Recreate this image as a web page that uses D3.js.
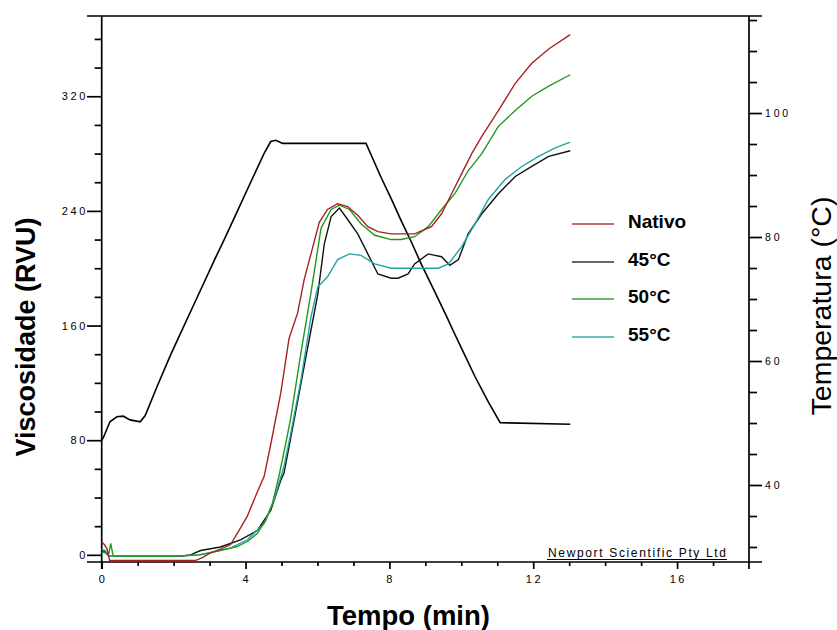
<!DOCTYPE html>
<html><head><meta charset="utf-8">
<script src="https://cdn.jsdelivr.net/npm/d3@7"></script>
<style>body{margin:0;background:#fff} svg{display:block}</style>
</head><body>
<svg id="c" width="837" height="630"></svg>
<script>
// ---- data ----
const tempTime = [0,0.05,0.23,0.42,0.60,0.79,1.07,1.21,1.54,1.91,2.14,2.65,3.16,3.40,3.68,4.14,4.51,4.70,4.84,5.03,7.35,7.77,8.05,8.33,8.61,8.89,9.25,9.59,9.78,10.10,10.38,10.75,11.08,13.03];
const tempVals = [47.2,47.7,50.2,51.0,51.1,50.5,50.2,51.2,55.9,60.9,63.8,70.2,76.6,79.5,83.0,88.8,93.4,95.4,95.6,95.1,95.1,89.6,86.2,82.6,79.2,75.6,71.3,67.2,64.8,60.9,57.5,53.4,50.05,49.8];

const nativoTime = [0,0.08,0.15,0.22,1.0,2.0,2.6,2.8,3.0,3.3,3.58,3.82,4.05,4.28,4.52,4.70,4.98,5.21,5.45,5.63,5.82,6.05,6.28,6.56,6.84,7.12,7.40,7.68,8.05,8.33,8.70,9.17,9.45,9.73,10.01,10.29,10.57,11.03,11.50,11.96,12.43,13.03];
const nativoVals = [9,7,4,-4,-4,-4,-4,-2,1,4,7,17,27,41,55,77,113,151,169,192,210,232,241,245,243,237,229,225.5,224,224,224,229,238,252,266,280,292,310,329,343,353,363];

const c45Time = [0,0.1,0.2,1.0,2.19,2.47,2.75,3.30,3.86,4.33,4.70,4.98,5.07,5.35,5.73,6.01,6.19,6.38,6.61,6.84,7.12,7.40,7.68,8.05,8.24,8.52,8.70,9.08,9.45,9.68,9.92,10.19,10.57,11.03,11.50,11.96,12.43,13.03];
const c45Vals = [3,2,-1,-1,-1,0,3,5.5,10.5,17,31,52,57,94,145,182,217,236,242,234,224,210,196,193,193,196,203,210,208,202,206,224,238,252,264,271,278,282];

const c50Time = [0,0.2,0.25,0.32,1.0,2.0,2.7,3.2,3.77,4.05,4.33,4.56,4.75,4.93,5.12,5.26,5.54,5.82,6.10,6.38,6.61,6.89,7.21,7.59,8.05,8.33,8.70,9.08,9.45,9.82,10.19,10.57,11.03,11.50,11.96,12.43,13.03];
const c50Vals = [2,1,8,-1,-1,-1,0,2.5,5.8,9.3,15,24,36,55,78,96,141,183,228,241,244,241,231,223,220,220,222,229,241,252,268,280,299,310,320,327,335];

const c55Time = [0,0.1,0.2,1.0,2.0,2.75,3.58,4.05,4.52,4.79,5.07,5.26,5.54,5.82,6.01,6.28,6.56,6.89,7.21,7.59,8.05,8.5,9.36,9.64,10.01,10.38,10.75,11.22,11.68,12.15,12.61,13.03];
const c55Vals = [4,3,-1,-1,-1,0,4.7,10.5,22,38,62,85,122,166,187,194,206,210,209,203,200,200,200,203,215,231,248,262,271,278,284,288];

const seriesNames = ["Nativo","45°C","50°C","55°C"];
const seriesColors = ["#a82222","#111111","#1f9a1f","#22a3a6"];
const legendColors = ["#b03a3a","#333333","#3aa03a","#3aa8a8"];
const timeTicks = [0,4,8,12,16];
const viscTicks = [0,80,160,240,320];
const tempTicks = [40,60,80,100];

// ---- scales ----
const svg = d3.select("#c");
const x = d3.scaleLinear().domain([0,18]).range([101.7,749]);
const yV = d3.scaleLinear().domain([-5,376]).range([562,16]);
const yT = d3.scaleLinear().domain([27.58,115.65]).range([562,16]);

const FONT = "'Liberation Sans', Arial, sans-serif";
const axisW = 1.7;

// ---- frame lines ----
const fx0 = x.range()[0]-14.7, fx1 = x.range()[1]+13;
svg.append("line").attr("x1",fx0).attr("x2",fx1).attr("y1",yV.range()[1]).attr("y2",yV.range()[1]).attr("stroke","#000").attr("stroke-width",axisW);
svg.append("line").attr("x1",fx0).attr("x2",fx1).attr("y1",yV.range()[0]).attr("y2",yV.range()[0]).attr("stroke","#000").attr("stroke-width",axisW);

// ---- left axis ----
const gL = svg.append("g").attr("transform",`translate(${x.range()[0]},0)`);
gL.call(d3.axisLeft(yV).tickValues(d3.range(0,376,20)).tickSize(7).tickSizeOuter(0).tickFormat(""));
gL.call(g=>g.selectAll(".tick").filter(d=>d%80===0).select("line").attr("x2",-14.7));
gL.selectAll("path,line").attr("stroke","#000").attr("stroke-width",axisW);
gL.select("path.domain").attr("d",`M0,${yV.range()[1]}V${yV.range()[0]+7}`);
svg.append("g").selectAll("text").data(viscTicks).join("text")
  .attr("x",88).attr("y",d=>yV(d)+4).attr("text-anchor","end")
  .attr("font-family",FONT).attr("font-size",11).attr("letter-spacing",2.6)
  .text(d=>d);

// ---- right axis ----
const gR = svg.append("g").attr("transform",`translate(${x.range()[1]},0)`);
gR.call(d3.axisRight(yT).tickValues(d3.range(30,116,5)).tickSize(8).tickSizeOuter(0).tickFormat(""));
gR.call(g=>g.selectAll(".tick").filter(d=>d%20===0).select("line").attr("x2",13));
gR.selectAll("path,line").attr("stroke","#000").attr("stroke-width",axisW);
gR.select("path.domain").attr("d",`M0,${yT.range()[1]}V${yT.range()[0]+7}`);
svg.append("g").selectAll("text").data(tempTicks).join("text")
  .attr("x",765).attr("y",d=>yT(d)+4)
  .attr("font-family",FONT).attr("font-size",10.5).attr("letter-spacing",2.8)
  .text(d=>d);

// ---- bottom axis ----
const gB = svg.append("g").attr("transform",`translate(0,${yV.range()[0]})`);
gB.call(d3.axisBottom(x).tickValues(d3.range(0,18,1)).tickSize(4).tickSizeOuter(0).tickFormat(""));
gB.call(g=>g.selectAll(".tick").filter(d=>d%4===0).select("line").attr("y2",7));
gB.selectAll("path,line").attr("stroke","#000").attr("stroke-width",axisW);
gB.select("path.domain").remove();
svg.append("g").selectAll("text").data(timeTicks).join("text")
  .attr("x",d=>x(d)+1.3).attr("y",583).attr("text-anchor","middle")
  .attr("font-family",FONT).attr("font-size",11).attr("letter-spacing",2.6)
  .text(d=>d);

// ---- watermark ----
svg.append("text").attr("x",548).attr("y",557).attr("font-family",FONT).attr("font-size",12)
  .attr("textLength",178).attr("lengthAdjust","spacing").text("Newport Scientific Pty Ltd");
svg.append("line").attr("x1",547).attr("x2",727).attr("y1",559.5).attr("y2",559.5).attr("stroke","#000").attr("stroke-width",1);

// ---- curves ----
const lineV = d3.line().x(d=>x(d[0])).y(d=>yV(d[1]));
const lineT = d3.line().x(d=>x(d[0])).y(d=>yT(d[1]));
const zip = (a,b)=>a.map((t,i)=>[t,b[i]]);

svg.append("path").datum(zip(tempTime,tempVals)).attr("d",lineT)
  .attr("fill","none").attr("stroke","#000").attr("stroke-width",1.6);

const viscSeries = [zip(nativoTime,nativoVals),zip(c45Time,c45Vals),zip(c50Time,c50Vals),zip(c55Time,c55Vals)];
const drawOrder = [1,3,2,0];
drawOrder.forEach(i=>{
  svg.append("path").datum(viscSeries[i]).attr("d",lineV)
    .attr("fill","none").attr("stroke",seriesColors[i]).attr("stroke-width",1.4);
});

// ---- legend ----
const legY = [224,262,299,337];
const leg = svg.append("g");
seriesNames.forEach((n,i)=>{
  leg.append("line").attr("x1",572).attr("x2",614).attr("y1",legY[i]).attr("y2",legY[i])
    .attr("stroke",legendColors[i]).attr("stroke-width",1.6);
  leg.append("text").attr("x",628).attr("y",legY[i]+3.5).attr("font-family",FONT)
    .attr("font-weight","bold").attr("font-size",19).text(n);
});

// ---- axis titles ----
svg.append("text").attr("transform","translate(35,337) rotate(-90)").attr("text-anchor","middle")
  .attr("font-family",FONT).attr("font-weight","bold").attr("font-size",27).text("Viscosidade (RVU)");
svg.append("text").attr("transform","translate(831,306) rotate(-90)").attr("text-anchor","middle")
  .attr("font-family",FONT).attr("font-size",28.5).text("Temperatura (°C)");
svg.append("text").attr("x",408.5).attr("y",625).attr("text-anchor","middle")
  .attr("font-family",FONT).attr("font-weight","bold").attr("font-size",27.5).text("Tempo (min)");
</script>
</body></html>
